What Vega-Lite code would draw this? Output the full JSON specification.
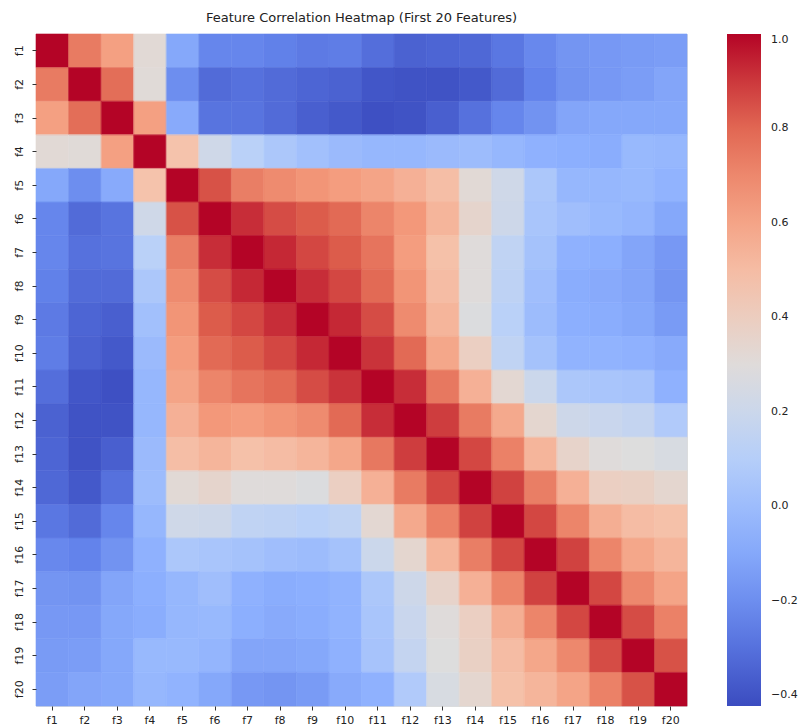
{
"$schema": "https://vega.github.io/schema/vega-lite/v6.json",
"autosize": {"type": "none"},
"padding": {"left": 36, "top": 34, "right": 111, "bottom": 20},
"width": 651,
"height": 672,
"background": "white",
"title": {"text": "Feature Correlation Heatmap (First 20 Features)", "font": "DejaVu Sans", "fontSize": 13, "fontWeight": "normal", "color": "#222222", "offset": 9, "anchor": "middle"},
"datasets": {"m": [
{"row":"f1","col":"f1","corr":1},{"row":"f1","col":"f2","corr":0.74},{"row":"f1","col":"f3","corr":0.62},{"row":"f1","col":"f4","corr":0.32},{"row":"f1","col":"f5","corr":-0.10},{"row":"f1","col":"f6","corr":-0.23},{"row":"f1","col":"f7","corr":-0.23},{"row":"f1","col":"f8","corr":-0.25},{"row":"f1","col":"f9","corr":-0.27},{"row":"f1","col":"f10","corr":-0.26},{"row":"f1","col":"f11","corr":-0.31},{"row":"f1","col":"f12","corr":-0.35},{"row":"f1","col":"f13","corr":-0.34},{"row":"f1","col":"f14","corr":-0.33},{"row":"f1","col":"f15","corr":-0.28},{"row":"f1","col":"f16","corr":-0.22},{"row":"f1","col":"f17","corr":-0.17},{"row":"f1","col":"f18","corr":-0.16},{"row":"f1","col":"f19","corr":-0.15},{"row":"f1","col":"f20","corr":-0.14},
{"row":"f2","col":"f1","corr":0.74},{"row":"f2","col":"f2","corr":1},{"row":"f2","col":"f3","corr":0.78},{"row":"f2","col":"f4","corr":0.31},{"row":"f2","col":"f5","corr":-0.20},{"row":"f2","col":"f6","corr":-0.32},{"row":"f2","col":"f7","corr":-0.30},{"row":"f2","col":"f8","corr":-0.32},{"row":"f2","col":"f9","corr":-0.34},{"row":"f2","col":"f10","corr":-0.35},{"row":"f2","col":"f11","corr":-0.39},{"row":"f2","col":"f12","corr":-0.40},{"row":"f2","col":"f13","corr":-0.40},{"row":"f2","col":"f14","corr":-0.38},{"row":"f2","col":"f15","corr":-0.32},{"row":"f2","col":"f16","corr":-0.24},{"row":"f2","col":"f17","corr":-0.18},{"row":"f2","col":"f18","corr":-0.16},{"row":"f2","col":"f19","corr":-0.14},{"row":"f2","col":"f20","corr":-0.11},
{"row":"f3","col":"f1","corr":0.62},{"row":"f3","col":"f2","corr":0.78},{"row":"f3","col":"f3","corr":1},{"row":"f3","col":"f4","corr":0.62},{"row":"f3","col":"f5","corr":-0.09},{"row":"f3","col":"f6","corr":-0.29},{"row":"f3","col":"f7","corr":-0.29},{"row":"f3","col":"f8","corr":-0.32},{"row":"f3","col":"f9","corr":-0.36},{"row":"f3","col":"f10","corr":-0.38},{"row":"f3","col":"f11","corr":-0.41},{"row":"f3","col":"f12","corr":-0.40},{"row":"f3","col":"f13","corr":-0.36},{"row":"f3","col":"f14","corr":-0.30},{"row":"f3","col":"f15","corr":-0.23},{"row":"f3","col":"f16","corr":-0.18},{"row":"f3","col":"f17","corr":-0.11},{"row":"f3","col":"f18","corr":-0.10},{"row":"f3","col":"f19","corr":-0.10},{"row":"f3","col":"f20","corr":-0.10},
{"row":"f4","col":"f1","corr":0.32},{"row":"f4","col":"f2","corr":0.31},{"row":"f4","col":"f3","corr":0.62},{"row":"f4","col":"f4","corr":1},{"row":"f4","col":"f5","corr":0.47},{"row":"f4","col":"f6","corr":0.22},{"row":"f4","col":"f7","corr":0.12},{"row":"f4","col":"f8","corr":0.06},{"row":"f4","col":"f9","corr":0.02},{"row":"f4","col":"f10","corr":-0.01},{"row":"f4","col":"f11","corr":-0.03},{"row":"f4","col":"f12","corr":-0.03},{"row":"f4","col":"f13","corr":-0.01},{"row":"f4","col":"f14","corr":0.0},{"row":"f4","col":"f15","corr":-0.03},{"row":"f4","col":"f16","corr":-0.06},{"row":"f4","col":"f17","corr":-0.07},{"row":"f4","col":"f18","corr":-0.08},{"row":"f4","col":"f19","corr":-0.02},{"row":"f4","col":"f20","corr":-0.03},
{"row":"f5","col":"f1","corr":-0.10},{"row":"f5","col":"f2","corr":-0.20},{"row":"f5","col":"f3","corr":-0.09},{"row":"f5","col":"f4","corr":0.47},{"row":"f5","col":"f5","corr":1},{"row":"f5","col":"f6","corr":0.85},{"row":"f5","col":"f7","corr":0.73},{"row":"f5","col":"f8","corr":0.69},{"row":"f5","col":"f9","corr":0.66},{"row":"f5","col":"f10","corr":0.63},{"row":"f5","col":"f11","corr":0.60},{"row":"f5","col":"f12","corr":0.55},{"row":"f5","col":"f13","corr":0.49},{"row":"f5","col":"f14","corr":0.32},{"row":"f5","col":"f15","corr":0.22},{"row":"f5","col":"f16","corr":0.06},{"row":"f5","col":"f17","corr":-0.03},{"row":"f5","col":"f18","corr":-0.03},{"row":"f5","col":"f19","corr":-0.02},{"row":"f5","col":"f20","corr":-0.05},
{"row":"f6","col":"f1","corr":-0.23},{"row":"f6","col":"f2","corr":-0.32},{"row":"f6","col":"f3","corr":-0.29},{"row":"f6","col":"f4","corr":0.22},{"row":"f6","col":"f5","corr":0.85},{"row":"f6","col":"f6","corr":1},{"row":"f6","col":"f7","corr":0.92},{"row":"f6","col":"f8","corr":0.86},{"row":"f6","col":"f9","corr":0.83},{"row":"f6","col":"f10","corr":0.79},{"row":"f6","col":"f11","corr":0.71},{"row":"f6","col":"f12","corr":0.65},{"row":"f6","col":"f13","corr":0.53},{"row":"f6","col":"f14","corr":0.35},{"row":"f6","col":"f15","corr":0.21},{"row":"f6","col":"f16","corr":0.05},{"row":"f6","col":"f17","corr":0.01},{"row":"f6","col":"f18","corr":-0.02},{"row":"f6","col":"f19","corr":-0.04},{"row":"f6","col":"f20","corr":-0.10},
{"row":"f7","col":"f1","corr":-0.23},{"row":"f7","col":"f2","corr":-0.30},{"row":"f7","col":"f3","corr":-0.29},{"row":"f7","col":"f4","corr":0.12},{"row":"f7","col":"f5","corr":0.73},{"row":"f7","col":"f6","corr":0.92},{"row":"f7","col":"f7","corr":1},{"row":"f7","col":"f8","corr":0.93},{"row":"f7","col":"f9","corr":0.87},{"row":"f7","col":"f10","corr":0.83},{"row":"f7","col":"f11","corr":0.76},{"row":"f7","col":"f12","corr":0.63},{"row":"f7","col":"f13","corr":0.48},{"row":"f7","col":"f14","corr":0.30},{"row":"f7","col":"f15","corr":0.15},{"row":"f7","col":"f16","corr":0.03},{"row":"f7","col":"f17","corr":-0.06},{"row":"f7","col":"f18","corr":-0.07},{"row":"f7","col":"f19","corr":-0.11},{"row":"f7","col":"f20","corr":-0.16},
{"row":"f8","col":"f1","corr":-0.25},{"row":"f8","col":"f2","corr":-0.32},{"row":"f8","col":"f3","corr":-0.32},{"row":"f8","col":"f4","corr":0.06},{"row":"f8","col":"f5","corr":0.69},{"row":"f8","col":"f6","corr":0.86},{"row":"f8","col":"f7","corr":0.93},{"row":"f8","col":"f8","corr":1},{"row":"f8","col":"f9","corr":0.92},{"row":"f8","col":"f10","corr":0.87},{"row":"f8","col":"f11","corr":0.79},{"row":"f8","col":"f12","corr":0.66},{"row":"f8","col":"f13","corr":0.50},{"row":"f8","col":"f14","corr":0.30},{"row":"f8","col":"f15","corr":0.14},{"row":"f8","col":"f16","corr":0.01},{"row":"f8","col":"f17","corr":-0.08},{"row":"f8","col":"f18","corr":-0.09},{"row":"f8","col":"f19","corr":-0.11},{"row":"f8","col":"f20","corr":-0.17},
{"row":"f9","col":"f1","corr":-0.27},{"row":"f9","col":"f2","corr":-0.34},{"row":"f9","col":"f3","corr":-0.36},{"row":"f9","col":"f4","corr":0.02},{"row":"f9","col":"f5","corr":0.66},{"row":"f9","col":"f6","corr":0.83},{"row":"f9","col":"f7","corr":0.87},{"row":"f9","col":"f8","corr":0.92},{"row":"f9","col":"f9","corr":1},{"row":"f9","col":"f10","corr":0.93},{"row":"f9","col":"f11","corr":0.86},{"row":"f9","col":"f12","corr":0.69},{"row":"f9","col":"f13","corr":0.53},{"row":"f9","col":"f14","corr":0.28},{"row":"f9","col":"f15","corr":0.12},{"row":"f9","col":"f16","corr":0.0},{"row":"f9","col":"f17","corr":-0.07},{"row":"f9","col":"f18","corr":-0.08},{"row":"f9","col":"f19","corr":-0.10},{"row":"f9","col":"f20","corr":-0.15},
{"row":"f10","col":"f1","corr":-0.26},{"row":"f10","col":"f2","corr":-0.35},{"row":"f10","col":"f3","corr":-0.38},{"row":"f10","col":"f4","corr":-0.01},{"row":"f10","col":"f5","corr":0.63},{"row":"f10","col":"f6","corr":0.79},{"row":"f10","col":"f7","corr":0.83},{"row":"f10","col":"f8","corr":0.87},{"row":"f10","col":"f9","corr":0.93},{"row":"f10","col":"f10","corr":1},{"row":"f10","col":"f11","corr":0.91},{"row":"f10","col":"f12","corr":0.79},{"row":"f10","col":"f13","corr":0.59},{"row":"f10","col":"f14","corr":0.39},{"row":"f10","col":"f15","corr":0.15},{"row":"f10","col":"f16","corr":0.03},{"row":"f10","col":"f17","corr":-0.05},{"row":"f10","col":"f18","corr":-0.05},{"row":"f10","col":"f19","corr":-0.06},{"row":"f10","col":"f20","corr":-0.09},
{"row":"f11","col":"f1","corr":-0.31},{"row":"f11","col":"f2","corr":-0.39},{"row":"f11","col":"f3","corr":-0.41},{"row":"f11","col":"f4","corr":-0.03},{"row":"f11","col":"f5","corr":0.60},{"row":"f11","col":"f6","corr":0.71},{"row":"f11","col":"f7","corr":0.76},{"row":"f11","col":"f8","corr":0.79},{"row":"f11","col":"f9","corr":0.86},{"row":"f11","col":"f10","corr":0.91},{"row":"f11","col":"f11","corr":1},{"row":"f11","col":"f12","corr":0.92},{"row":"f11","col":"f13","corr":0.75},{"row":"f11","col":"f14","corr":0.55},{"row":"f11","col":"f15","corr":0.33},{"row":"f11","col":"f16","corr":0.20},{"row":"f11","col":"f17","corr":0.06},{"row":"f11","col":"f18","corr":0.05},{"row":"f11","col":"f19","corr":0.04},{"row":"f11","col":"f20","corr":-0.06},
{"row":"f12","col":"f1","corr":-0.35},{"row":"f12","col":"f2","corr":-0.40},{"row":"f12","col":"f3","corr":-0.40},{"row":"f12","col":"f4","corr":-0.03},{"row":"f12","col":"f5","corr":0.55},{"row":"f12","col":"f6","corr":0.65},{"row":"f12","col":"f7","corr":0.63},{"row":"f12","col":"f8","corr":0.66},{"row":"f12","col":"f9","corr":0.69},{"row":"f12","col":"f10","corr":0.79},{"row":"f12","col":"f11","corr":0.92},{"row":"f12","col":"f12","corr":1},{"row":"f12","col":"f13","corr":0.89},{"row":"f12","col":"f14","corr":0.74},{"row":"f12","col":"f15","corr":0.58},{"row":"f12","col":"f16","corr":0.34},{"row":"f12","col":"f17","corr":0.21},{"row":"f12","col":"f18","corr":0.19},{"row":"f12","col":"f19","corr":0.17},{"row":"f12","col":"f20","corr":0.08},
{"row":"f13","col":"f1","corr":-0.34},{"row":"f13","col":"f2","corr":-0.40},{"row":"f13","col":"f3","corr":-0.36},{"row":"f13","col":"f4","corr":-0.01},{"row":"f13","col":"f5","corr":0.49},{"row":"f13","col":"f6","corr":0.53},{"row":"f13","col":"f7","corr":0.48},{"row":"f13","col":"f8","corr":0.50},{"row":"f13","col":"f9","corr":0.53},{"row":"f13","col":"f10","corr":0.59},{"row":"f13","col":"f11","corr":0.75},{"row":"f13","col":"f12","corr":0.89},{"row":"f13","col":"f13","corr":1},{"row":"f13","col":"f14","corr":0.87},{"row":"f13","col":"f15","corr":0.72},{"row":"f13","col":"f16","corr":0.53},{"row":"f13","col":"f17","corr":0.36},{"row":"f13","col":"f18","corr":0.30},{"row":"f13","col":"f19","corr":0.29},{"row":"f13","col":"f20","corr":0.26},
{"row":"f14","col":"f1","corr":-0.33},{"row":"f14","col":"f2","corr":-0.38},{"row":"f14","col":"f3","corr":-0.30},{"row":"f14","col":"f4","corr":0.0},{"row":"f14","col":"f5","corr":0.32},{"row":"f14","col":"f6","corr":0.35},{"row":"f14","col":"f7","corr":0.30},{"row":"f14","col":"f8","corr":0.30},{"row":"f14","col":"f9","corr":0.28},{"row":"f14","col":"f10","corr":0.39},{"row":"f14","col":"f11","corr":0.55},{"row":"f14","col":"f12","corr":0.74},{"row":"f14","col":"f13","corr":0.87},{"row":"f14","col":"f14","corr":1},{"row":"f14","col":"f15","corr":0.88},{"row":"f14","col":"f16","corr":0.73},{"row":"f14","col":"f17","corr":0.55},{"row":"f14","col":"f18","corr":0.39},{"row":"f14","col":"f19","corr":0.38},{"row":"f14","col":"f20","corr":0.34},
{"row":"f15","col":"f1","corr":-0.28},{"row":"f15","col":"f2","corr":-0.32},{"row":"f15","col":"f3","corr":-0.23},{"row":"f15","col":"f4","corr":-0.03},{"row":"f15","col":"f5","corr":0.22},{"row":"f15","col":"f6","corr":0.21},{"row":"f15","col":"f7","corr":0.15},{"row":"f15","col":"f8","corr":0.14},{"row":"f15","col":"f9","corr":0.12},{"row":"f15","col":"f10","corr":0.15},{"row":"f15","col":"f11","corr":0.33},{"row":"f15","col":"f12","corr":0.58},{"row":"f15","col":"f13","corr":0.72},{"row":"f15","col":"f14","corr":0.88},{"row":"f15","col":"f15","corr":1},{"row":"f15","col":"f16","corr":0.87},{"row":"f15","col":"f17","corr":0.71},{"row":"f15","col":"f18","corr":0.56},{"row":"f15","col":"f19","corr":0.50},{"row":"f15","col":"f20","corr":0.48},
{"row":"f16","col":"f1","corr":-0.22},{"row":"f16","col":"f2","corr":-0.24},{"row":"f16","col":"f3","corr":-0.18},{"row":"f16","col":"f4","corr":-0.06},{"row":"f16","col":"f5","corr":0.06},{"row":"f16","col":"f6","corr":0.05},{"row":"f16","col":"f7","corr":0.03},{"row":"f16","col":"f8","corr":0.01},{"row":"f16","col":"f9","corr":0.0},{"row":"f16","col":"f10","corr":0.03},{"row":"f16","col":"f11","corr":0.20},{"row":"f16","col":"f12","corr":0.34},{"row":"f16","col":"f13","corr":0.53},{"row":"f16","col":"f14","corr":0.73},{"row":"f16","col":"f15","corr":0.87},{"row":"f16","col":"f16","corr":1},{"row":"f16","col":"f17","corr":0.88},{"row":"f16","col":"f18","corr":0.71},{"row":"f16","col":"f19","corr":0.59},{"row":"f16","col":"f20","corr":0.53},
{"row":"f17","col":"f1","corr":-0.17},{"row":"f17","col":"f2","corr":-0.18},{"row":"f17","col":"f3","corr":-0.11},{"row":"f17","col":"f4","corr":-0.07},{"row":"f17","col":"f5","corr":-0.03},{"row":"f17","col":"f6","corr":0.01},{"row":"f17","col":"f7","corr":-0.06},{"row":"f17","col":"f8","corr":-0.08},{"row":"f17","col":"f9","corr":-0.07},{"row":"f17","col":"f10","corr":-0.05},{"row":"f17","col":"f11","corr":0.06},{"row":"f17","col":"f12","corr":0.21},{"row":"f17","col":"f13","corr":0.36},{"row":"f17","col":"f14","corr":0.55},{"row":"f17","col":"f15","corr":0.71},{"row":"f17","col":"f16","corr":0.88},{"row":"f17","col":"f17","corr":1},{"row":"f17","col":"f18","corr":0.87},{"row":"f17","col":"f19","corr":0.70},{"row":"f17","col":"f20","corr":0.60},
{"row":"f18","col":"f1","corr":-0.16},{"row":"f18","col":"f2","corr":-0.16},{"row":"f18","col":"f3","corr":-0.10},{"row":"f18","col":"f4","corr":-0.08},{"row":"f18","col":"f5","corr":-0.03},{"row":"f18","col":"f6","corr":-0.02},{"row":"f18","col":"f7","corr":-0.07},{"row":"f18","col":"f8","corr":-0.09},{"row":"f18","col":"f9","corr":-0.08},{"row":"f18","col":"f10","corr":-0.05},{"row":"f18","col":"f11","corr":0.05},{"row":"f18","col":"f12","corr":0.19},{"row":"f18","col":"f13","corr":0.30},{"row":"f18","col":"f14","corr":0.39},{"row":"f18","col":"f15","corr":0.56},{"row":"f18","col":"f16","corr":0.71},{"row":"f18","col":"f17","corr":0.87},{"row":"f18","col":"f18","corr":1},{"row":"f18","col":"f19","corr":0.86},{"row":"f18","col":"f20","corr":0.72},
{"row":"f19","col":"f1","corr":-0.15},{"row":"f19","col":"f2","corr":-0.14},{"row":"f19","col":"f3","corr":-0.10},{"row":"f19","col":"f4","corr":-0.02},{"row":"f19","col":"f5","corr":-0.02},{"row":"f19","col":"f6","corr":-0.04},{"row":"f19","col":"f7","corr":-0.11},{"row":"f19","col":"f8","corr":-0.11},{"row":"f19","col":"f9","corr":-0.10},{"row":"f19","col":"f10","corr":-0.06},{"row":"f19","col":"f11","corr":0.04},{"row":"f19","col":"f12","corr":0.17},{"row":"f19","col":"f13","corr":0.29},{"row":"f19","col":"f14","corr":0.38},{"row":"f19","col":"f15","corr":0.50},{"row":"f19","col":"f16","corr":0.59},{"row":"f19","col":"f17","corr":0.70},{"row":"f19","col":"f18","corr":0.86},{"row":"f19","col":"f19","corr":1},{"row":"f19","col":"f20","corr":0.85},
{"row":"f20","col":"f1","corr":-0.14},{"row":"f20","col":"f2","corr":-0.11},{"row":"f20","col":"f3","corr":-0.10},{"row":"f20","col":"f4","corr":-0.03},{"row":"f20","col":"f5","corr":-0.05},{"row":"f20","col":"f6","corr":-0.10},{"row":"f20","col":"f7","corr":-0.16},{"row":"f20","col":"f8","corr":-0.17},{"row":"f20","col":"f9","corr":-0.15},{"row":"f20","col":"f10","corr":-0.09},{"row":"f20","col":"f11","corr":-0.06},{"row":"f20","col":"f12","corr":0.08},{"row":"f20","col":"f13","corr":0.26},{"row":"f20","col":"f14","corr":0.34},{"row":"f20","col":"f15","corr":0.48},{"row":"f20","col":"f16","corr":0.53},{"row":"f20","col":"f17","corr":0.60},{"row":"f20","col":"f18","corr":0.72},{"row":"f20","col":"f19","corr":0.85},{"row":"f20","col":"f20","corr":1}
]},
"data": {"name": "m"},
"encoding": {
  "x": {"field": "col", "type": "ordinal", "sort": ["f1","f2","f3","f4","f5","f6","f7","f8","f9","f10","f11","f12","f13","f14","f15","f16","f17","f18","f19","f20"], "scale": {"paddingInner": 0, "paddingOuter": 0},
        "axis": {"title": null, "labelAngle": 0, "domain": false, "ticks": true, "tickSize": 4, "tickColor": "#333333", "labelFont": "DejaVu Sans", "labelFontSize": 11, "labelColor": "#222222", "labelPadding": 4, "grid": false}},
  "y": {"field": "row", "type": "ordinal", "sort": ["f1","f2","f3","f4","f5","f6","f7","f8","f9","f10","f11","f12","f13","f14","f15","f16","f17","f18","f19","f20"], "scale": {"paddingInner": 0, "paddingOuter": 0},
        "axis": {"title": null, "labelAngle": -90, "labelAlign": "center", "labelBaseline": "bottom", "domain": false, "ticks": true, "tickSize": 4, "tickColor": "#333333", "labelFont": "DejaVu Sans", "labelFontSize": 11, "labelColor": "#222222", "labelPadding": 8, "grid": false}}
},
"layer": [
  {"mark": {"type": "rect"},
   "encoding": {
    "color": {"field": "corr", "type": "quantitative",
      "scale": {"domain": [-0.423, -0.2451, -0.0673, 0.1106, 0.2885, 0.4664, 0.6443, 0.8221, 1.0],
                "range": ["#3b4cc0", "#6282ea", "#8db0fe", "#b8d0f9", "#dddddd", "#f5c4ad", "#f49a7b", "#de604d", "#b40426"],
                "interpolate": "rgb"},
      "legend": {"type": "gradient", "orient": "none", "legendX": 691, "legendY": 0, "direction": "vertical", "title": null,
                 "gradientLength": 672, "gradientThickness": 34, "gradientStrokeWidth": 0,
                 "values": [-0.4, -0.2, 0.0, 0.2, 0.4, 0.6, 0.8, 1.0], "format": ".1f",
                 "labelExpr": "replace(datum.label, '-', '\u2212')",
                 "labelFont": "DejaVu Sans", "labelFontSize": 11, "labelColor": "#222222", "labelOffset": 10, "labelOverlap": false}}
   }},
  {"mark": {"type": "rect", "fillOpacity": 0, "strokeWidth": 0.6},
   "encoding": {
    "stroke": {"field": "corr", "type": "quantitative",
      "scale": {"domain": [-0.423, -0.2451, -0.0673, 0.1106, 0.2885, 0.4664, 0.6443, 0.8221, 1.0],
                "range": ["#3b4cc0", "#6282ea", "#8db0fe", "#b8d0f9", "#dddddd", "#f5c4ad", "#f49a7b", "#de604d", "#b40426"],
                "interpolate": "rgb"},
      "legend": null}
   }}
],
"resolve": {"scale": {"stroke": "independent"}, "legend": {"stroke": "independent"}}
}
